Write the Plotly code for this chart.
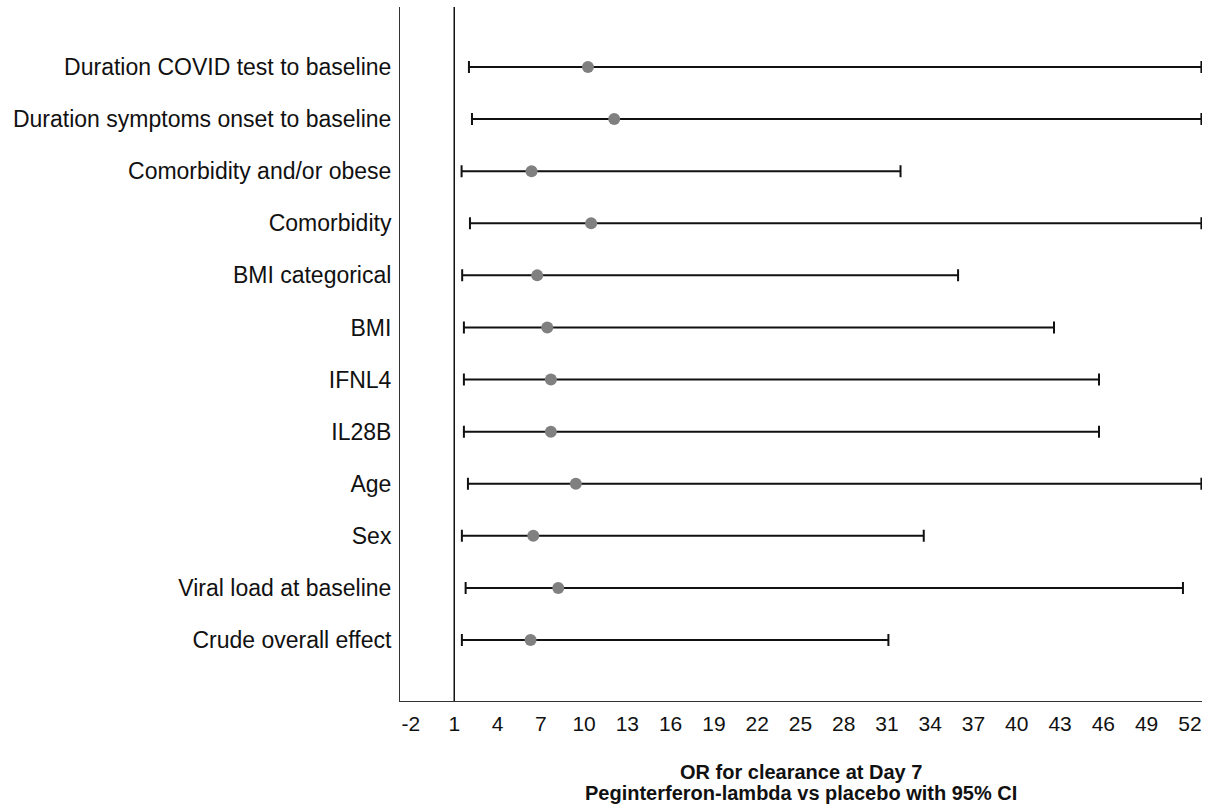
import plotly.graph_objects as go

# Categories, top to bottom as displayed
categories = [
    "Duration COVID test to baseline",
    "Duration symptoms onset to baseline",
    "Comorbidity and/or obese",
    "Comorbidity",
    "BMI categorical",
    "BMI",
    "IFNL4",
    "IL28B",
    "Age",
    "Sex",
    "Viral load at baseline",
    "Crude overall effect",
]
odds_ratio = [10.27, 12.09, 6.36, 10.49, 6.75, 7.45, 7.70, 7.70, 9.43, 6.48, 8.21, 6.29]
ci_lower = [2.02, 2.23, 1.51, 2.09, 1.55, 1.67, 1.67, 1.67, 1.95, 1.53, 1.79, 1.53]
ci_upper = [52.8, 52.8, 31.94, 52.8, 35.93, 42.58, 45.70, 45.70, 52.8, 33.55, 51.52, 31.10]

x_tick_vals = list(range(-2, 53, 3))
x_tick_text = [str(v) for v in x_tick_vals]

title_lines = ["OR for clearance at Day 7", "Peginterferon-lambda vs placebo with 95% CI"]

# bottom-to-top order for plotting
cats_plot = categories[::-1]
or_plot = odds_ratio[::-1]
lo_plot = ci_lower[::-1]
hi_plot = ci_upper[::-1]

font_family = "Liberation Sans, Arial, sans-serif"

fig = go.Figure()
fig.add_trace(go.Scatter(
    x=or_plot,
    y=cats_plot,
    mode="markers",
    marker=dict(color="#808080", size=12, line=dict(width=0)),
    error_x=dict(
        type="data",
        symmetric=False,
        array=[h - o for h, o in zip(hi_plot, or_plot)],
        arrayminus=[o - l for o, l in zip(or_plot, lo_plot)],
        color="#111111",
        thickness=2,
        width=6,
    ),
    cliponaxis=False,
    showlegend=False,
))

fig.add_shape(type="line", xref="x", yref="paper", x0=1, x1=1, y0=0, y1=1,
              line=dict(color="#111111", width=1.5))

title_y = [-0.1019, -0.1326]
annotations = [
    dict(text="<b>%s</b>" % t, xref="paper", yref="paper", x=0.5, y=yy,
         xanchor="center", yanchor="middle", showarrow=False,
         font=dict(family=font_family, size=20, color="#111111"))
    for t, yy in zip(title_lines, title_y)
]

fig.update_layout(
    width=1211, height=811,
    margin=dict(l=400, r=9, t=7, b=110),
    paper_bgcolor="white", plot_bgcolor="white",
    font=dict(family=font_family, size=20, color="#111111"),
    xaxis=dict(
        range=[-2.76, 52.84],
        tickvals=x_tick_vals, ticktext=x_tick_text,
        showgrid=False, zeroline=False,
        showline=True, linecolor="#333333", linewidth=1,
        ticks="", ticklabelstandoff=4,
        tickfont=dict(size=21, color="#111111"),
    ),
    yaxis=dict(
        type="category",
        categoryorder="array", categoryarray=cats_plot,
        range=[-1.171, 12.152],
        showgrid=False, zeroline=False,
        showline=True, linecolor="#333333", linewidth=1,
        ticks="", ticklabelstandoff=3,
        tickfont=dict(size=23, color="#111111"),
    ),
    annotations=annotations,
)

fig.write_html(
    "out.html",
    config={"displayModeBar": False},
    post_script="document.body.style.margin='0';document.body.style.padding='0';",
)
